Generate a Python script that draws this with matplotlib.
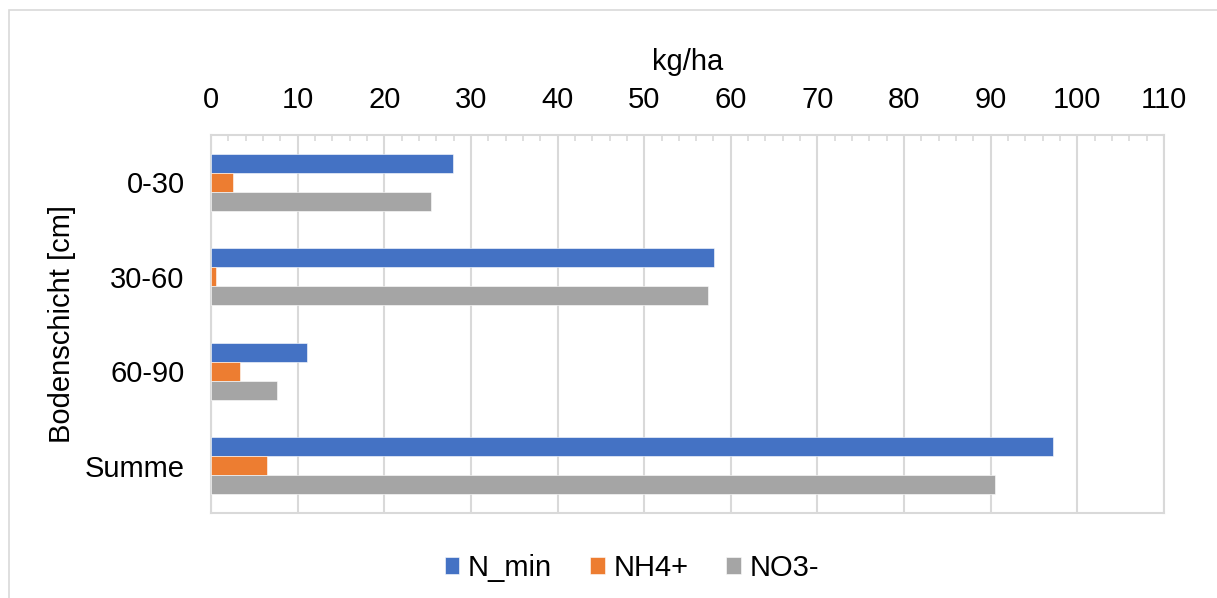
import matplotlib
matplotlib.use('Agg')
import matplotlib.pyplot as plt
from matplotlib.patches import Rectangle
from matplotlib.ticker import MultipleLocator
import numpy as np

plt.rcParams['font.family'] = ['Liberation Sans', 'DejaVu Sans']

# Stickstoff je Bodenschicht in kg/ha
schichten = ["0-30", "30-60", "60-90", "Summe"]
n_min = [27.9, 58.1, 11.1, 97.2]
nh4 = [2.5, 0.6, 3.3, 6.5]
no3 = [25.4, 57.4, 7.6, 90.5]

series = [
    ("N_min", n_min, "#4472C4"),
    ("NH4+", nh4, "#ED7D31"),
    ("NO3-", no3, "#A5A5A5"),
]

grid_col = "#D9D9D9"
fs = 21

fig = plt.figure(figsize=(12.17, 5.98), dpi=100)
fig.patches.append(Rectangle((9 / 1217, -0.1), 1.2, 1 - 10 / 598 + 0.1,
                             transform=fig.transFigure, fill=False,
                             edgecolor=grid_col, linewidth=1.2))

ax = fig.add_axes([211 / 1217, 1 - 513 / 598, (1164 - 211) / 1217, (513 - 135) / 598])

y = np.arange(len(schichten))
h = 0.2
for i, (name, vals, col) in enumerate(series):
    ax.barh(y + (i - 1) * h, vals, height=h, color=col, label=name,
            edgecolor="white", linewidth=0.4, zorder=3)

ax.set_ylim(len(schichten) - 0.5, -0.5)
ax.set_xlim(0, 110)
ax.set_yticks(y)
ax.set_yticklabels(schichten)

ax.xaxis.set_major_locator(MultipleLocator(10))
ax.xaxis.set_minor_locator(MultipleLocator(2))
ax.xaxis.tick_top()
ax.xaxis.set_label_position('top')
ax.tick_params(axis='x', which='major', length=0, pad=15, labelsize=fs)
ax.tick_params(axis='x', which='minor', direction='in', length=4.5,
               color=grid_col, width=1.2, top=True, bottom=False)
ax.tick_params(axis='y', length=0, pad=19, labelsize=fs)

ax.grid(axis='x', which='major', color=grid_col, linewidth=1.5, zorder=0)
for s in ax.spines.values():
    s.set_color(grid_col)
    s.set_linewidth(1.5)

ax.set_xlabel("kg/ha", fontsize=fs, labelpad=12)
ax.set_ylabel("Bodenschicht [cm]", fontsize=fs, labelpad=6)

fig.legend(loc='center', bbox_to_anchor=(632 / 1217, 1 - 568 / 598), ncol=3,
           frameon=False, fontsize=fs, handlelength=0.5, handleheight=0.5,
           handletextpad=0.3, columnspacing=1.3)

fig.savefig("out.png", dpi=100, facecolor='white')
